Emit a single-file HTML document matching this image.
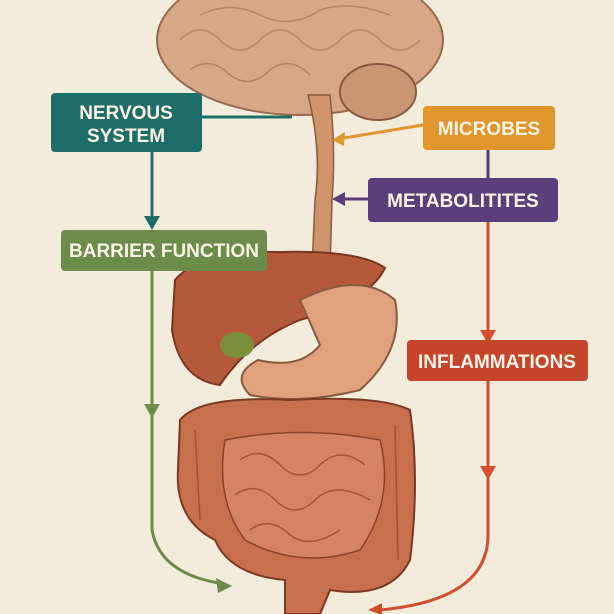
<!DOCTYPE html>
<html><head><style>
body{margin:0;background:#f3ebdc;}
svg{display:block;}
text{font-family:"Liberation Sans",sans-serif;font-weight:bold;fill:#fbf4e6;text-anchor:middle;}
</style></head><body>
<svg width="614" height="614" viewBox="0 0 614 614">
<rect width="614" height="614" fill="#f3ebdc"/>
<!-- brain -->
<ellipse cx="300" cy="40" rx="143" ry="75" fill="#d7a888" stroke="#9a6a4e" stroke-width="2"/>
<ellipse cx="378" cy="92" rx="38" ry="28" fill="#c99674" stroke="#8a5a40" stroke-width="2"/>
<g fill="none" stroke="#a87456" stroke-width="1.5" opacity=".7">
<path d="M180 40 Q200 20 220 40 Q240 60 260 40 Q280 20 300 40 Q320 60 340 40 Q360 20 380 40 Q400 60 420 40"/>
<path d="M190 70 Q210 55 230 75 Q250 90 270 70 Q290 55 310 75"/>
<path d="M200 15 Q230 0 260 15 Q290 30 320 10 Q350 0 390 15"/>
</g>
<!-- stem/esophagus -->
<path d="M308 95 Q322 150 315 200 L312 270 L330 270 L332 200 Q336 150 330 95 Z" fill="#cf946c" stroke="#8a5a40" stroke-width="1.5"/>
<!-- liver -->
<path d="M175 280 Q200 250 280 252 Q360 250 385 268 Q370 300 300 320 Q250 340 220 385 Q180 380 172 330 Z" fill="#b45a3a" stroke="#7a3520" stroke-width="2"/>
<ellipse cx="237" cy="345" rx="17" ry="13" fill="#7c8f3a"/>
<!-- stomach -->
<path d="M300 300 Q360 270 395 300 Q405 350 360 390 Q300 405 250 395 Q230 375 258 360 Q300 370 320 345 Z" fill="#e0a27e" stroke="#8a5a40" stroke-width="2"/>
<!-- intestines -->
<path d="M180 420 Q200 395 290 400 Q380 395 410 410 Q420 480 410 560 Q390 600 330 590 L320 614 L285 614 L285 580 Q230 575 215 540 Q175 520 178 470 Z" fill="#c8704e" stroke="#7a3a22" stroke-width="2"/>
<path d="M225 440 Q300 425 380 440 Q395 500 360 550 Q300 570 245 540 Q215 500 225 440Z" fill="#d48462" stroke="#8a4328" stroke-width="1.5"/>
<g fill="none" stroke="#9a4a2c" stroke-width="1.5" opacity=".8">
<path d="M240 460 Q260 445 280 465 Q300 485 320 465 Q340 445 365 465"/>
<path d="M235 495 Q255 480 275 500 Q295 520 315 500 Q335 480 370 500"/>
<path d="M250 530 Q270 515 290 535 Q310 550 340 530"/>
<path d="M195 430 L200 520 M395 425 L398 560"/>
</g>
<!-- arrows -->
<g fill="none" stroke-width="3">
<path d="M202 117 L292 117" stroke="#1d6e68"/>
<path d="M152 152 L152 218" stroke="#1d6e68"/>
<path d="M423 125 Q380 132 338 139" stroke="#e0962c"/>
<path d="M488 150 L488 178" stroke="#5a3f7b"/>
<path d="M368 199 L340 199" stroke="#5a3f7b"/>
<path d="M488 222 L488 332" stroke="#d24f2e"/>
<path d="M488 381 L488 535 Q488 600 380 610" stroke="#d24f2e"/>
<path d="M152 271 L152 530 Q160 575 225 584" stroke="#6b8c4a"/>
</g>
<polygon points="144,216 160,216 152,230" fill="#1d6e68"/>
<polygon points="332,140 345,132 344,146" fill="#e0962c"/>
<polygon points="332,199 345,192 345,206" fill="#5a3f7b"/>
<polygon points="480,330 496,330 488,344" fill="#d24f2e"/>
<polygon points="480,466 496,466 488,480" fill="#d24f2e"/>
<polygon points="144,404 160,404 152,418" fill="#6b8c4a"/>
<polygon points="232,586 216,578 218,593" fill="#6b8c4a"/>
<polygon points="368,610 382,603 382,615" fill="#d24f2e"/>
<!-- boxes -->
<rect x="51" y="93" width="151" height="59" rx="4" fill="#1d6e68"/>
<text x="126" y="119" font-size="19">NERVOUS</text>
<text x="126" y="142" font-size="19">SYSTEM</text>
<rect x="423" y="106" width="132" height="44" rx="4" fill="#e0962c"/>
<text x="489" y="135" font-size="19">MICROBES</text>
<rect x="368" y="178" width="190" height="44" rx="4" fill="#5a3f7b"/>
<text x="463" y="207" font-size="19">METABOLITITES</text>
<rect x="61" y="230" width="206" height="41" rx="4" fill="#6b8c4a"/>
<text x="164" y="257" font-size="19">BARRIER FUNCTION</text>
<rect x="407" y="340" width="181" height="41" rx="4" fill="#c4452c"/>
<text x="497" y="368" font-size="19">INFLAMMATIONS</text>
</svg>
</body></html>
